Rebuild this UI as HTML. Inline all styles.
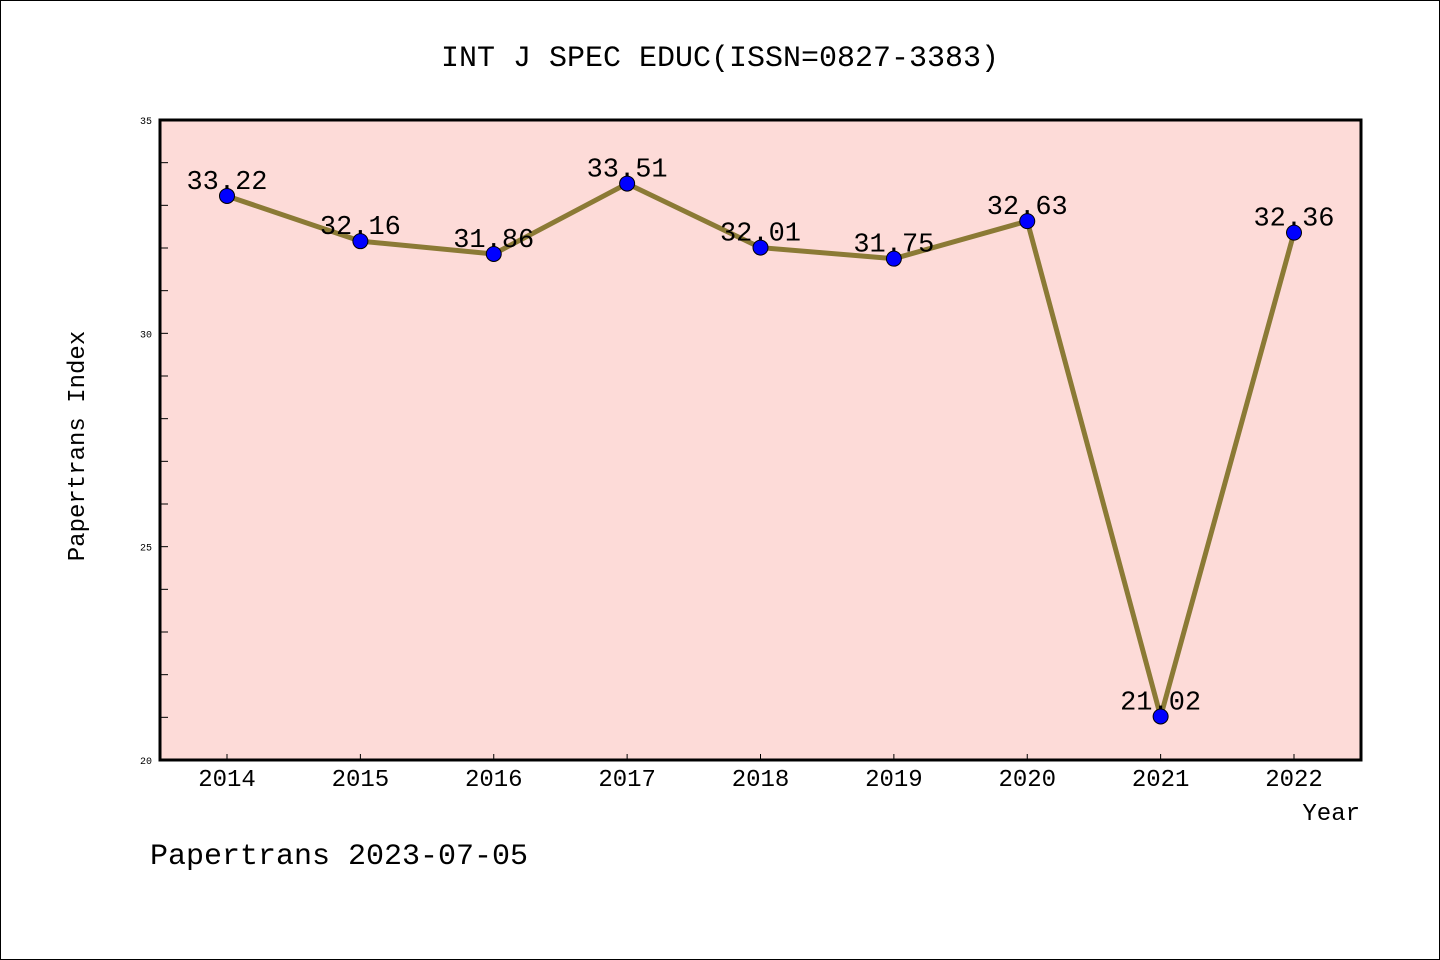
<!DOCTYPE html>
<html><head><meta charset="utf-8"><style>
html,body{margin:0;padding:0;background:#fff}
svg{display:block}
text{font-family:"WenQuanYi Zen Hei Mono","Liberation Mono",monospace;fill:#000}
</style></head><body>
<svg id="chart" width="1440" height="960" xmlns="http://www.w3.org/2000/svg">
<rect x="0.5" y="0.5" width="1439" height="959" fill="#fff" stroke="#000"/>
<text x="720" y="66" font-size="30" text-anchor="middle">INT J SPEC EDUC(ISSN=0827-3383)</text>
<rect x="160" y="120" width="1201" height="640" fill="#fddbd8"/>
<g id="yticks"></g><g id="xticks"></g>
<rect x="160" y="120" width="1201" height="640" fill="none" stroke="#000" stroke-width="3"/>
<g id="series"></g>
<text x="84" y="446" font-size="24" text-anchor="middle" transform="rotate(-90 84 446)">Papertrans Index</text>
<text x="1360" y="820" font-size="24" text-anchor="end">Year</text>
<text x="150" y="864" font-size="30">Papertrans 2023-07-05</text>
</svg>
<script>
const years=[2014,2015,2016,2017,2018,2019,2020,2021,2022];
const values=[33.22,32.16,31.86,33.51,32.01,31.75,32.63,21.02,32.36];
const yTickLabels=[20,25,30,35];
const NS="http://www.w3.org/2000/svg";
const xs=i=>227+i*133.375;
const ys=v=>760-(v-20)*(640/15);
function mk(tag,attrs,parent){const e=document.createElementNS(NS,tag);for(const k in attrs)e.setAttribute(k,attrs[k]);parent.appendChild(e);return e;}
const yt=document.getElementById('yticks'),xt=document.getElementById('xticks'),sg=document.getElementById('series');
for(let v=20;v<=35;v++){
  const t=mk('line',{x1:160,x2:168,y1:ys(v),y2:ys(v),stroke:'#000','stroke-width':1},yt);
  
  
}
yTickLabels.forEach(v=>{
  const t=mk('text',{x:152,y:ys(v)+4,'font-size':10,'text-anchor':'end'},yt);
  t.textContent=v;
  
  
});
years.forEach((y,i)=>{
  const t=mk('line',{x1:xs(i),x2:xs(i),y1:760,y2:754,stroke:'#000','stroke-width':1},xt);
  
  
  const l=mk('text',{x:xs(i),y:786,'font-size':24,'text-anchor':'middle'},xt);
  l.textContent=y;
  
  
});
const line=mk('polyline',{points:values.map((v,i)=>xs(i)+','+ys(v)).join(' '),fill:'none',stroke:'#8b7a35','stroke-width':5,'stroke-linejoin':'round'},sg);


values.forEach((v,i)=>{
  const c=mk('circle',{cx:xs(i),cy:ys(v),r:7.5,fill:'#0000ff',stroke:'#000','stroke-width':1},sg);
  
  
});
values.forEach((v,i)=>{
  const t=mk('text',{x:xs(i),y:ys(v)-7,'font-size':27,'text-anchor':'middle'},sg);
  t.textContent=v.toFixed(2);
  
  
});
</script>
</body></html>
